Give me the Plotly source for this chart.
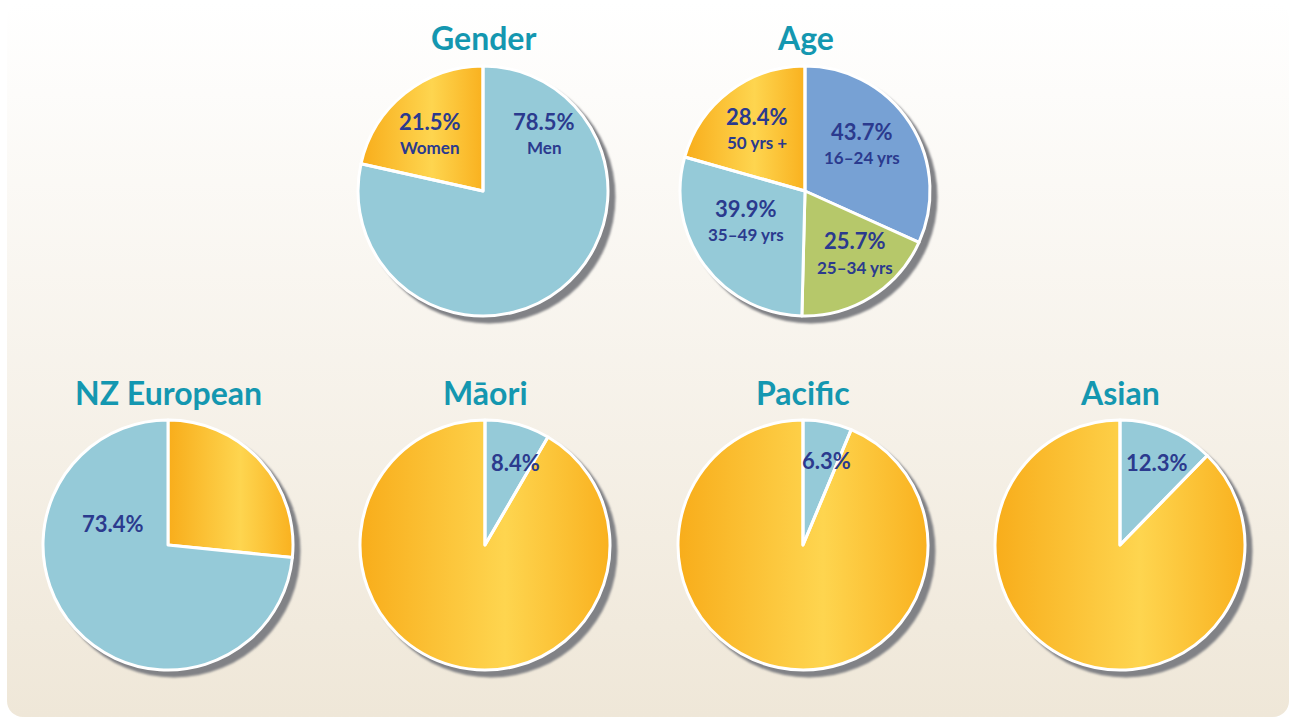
import base64
import numpy as np
import plotly.graph_objects as go

W, H = 1291, 718

# ---------------- data ----------------
titles = ["Gender", "Age", "NZ European", "Māori", "Pacific", "Asian"]

gender_labels = ["Men", "Women"]
gender_values = [78.5, 21.5]
gender_text = ["78.5%", "21.5%"]

age_labels = ["16–24 yrs", "25–34 yrs", "35–49 yrs", "50 yrs +"]
age_values = [43.7, 25.7, 39.9, 28.4]
age_text = ["43.7%", "25.7%", "39.9%", "28.4%"]

nze_labels = ["Other", "NZ European"]
nze_values = [26.6, 73.4]
nze_text = ["", "73.4%"]

maori_labels = ["Māori", "Other"]
maori_values = [8.4, 91.6]
maori_text = ["8.4%", ""]

pacific_labels = ["Pacific", "Other"]
pacific_values = [6.3, 93.7]
pacific_text = ["6.3%", ""]

asian_labels = ["Asian", "Other"]
asian_values = [12.3, 87.7]
asian_text = ["12.3%", ""]

# ---------------- styles ----------------
BLUE = "#95cad8"
DBLUE = "#77a1d4"
GREEN = "#b6c86a"
ORANGE = "rgba(0,0,0,0)"  # filled by gradient underneath
TITLE_C = "#1497b0"
LABEL_C = "#2b3a8e"
SHADOW_C = "#818286"
FONT = "Lato"

R = 125  # pie radius (px)

pies = [
    dict(title=titles[0], labels=gender_labels, values=gender_values, text=gender_text,
         sub=["Men", "Women"], colors=[BLUE, ORANGE], orange=1, c=(483, 191),
         pos=[(61, -66), (-53, -66)]),
    dict(title=titles[1], labels=age_labels, values=age_values, text=age_text,
         sub=age_labels, colors=[DBLUE, GREEN, BLUE, ORANGE], orange=3, c=(805, 191),
         pos=[(57, -56), (50, 54), (-59, 21), (-48, -71)]),
    dict(title=titles[2], labels=nze_labels, values=nze_values, text=nze_text,
         sub=None, colors=[ORANGE, BLUE], orange=0, c=(168, 545),
         pos=[None, (-55, -22)]),
    dict(title=titles[3], labels=maori_labels, values=maori_values, text=maori_text,
         sub=None, colors=[BLUE, ORANGE], orange=1, c=(485, 545),
         pos=[(30, -83), None]),
    dict(title=titles[4], labels=pacific_labels, values=pacific_values, text=pacific_text,
         sub=None, colors=[BLUE, ORANGE], orange=1, c=(803, 545),
         pos=[(23, -85), None]),
    dict(title=titles[5], labels=asian_labels, values=asian_values, text=asian_text,
         sub=None, colors=[BLUE, ORANGE], orange=1, c=(1120, 545),
         pos=[(37, -83), None]),
]


def px2x(x):
    return x / W


def px2y(y):
    return 1 - y / H


fig = go.Figure()
annotations = []
grad_defs = []
circles = []

for i, p in enumerate(pies):
    cx, cy = p["c"]
    fig.add_trace(go.Pie(
        labels=p["labels"], values=p["values"], sort=False, direction="clockwise",
        rotation=0, textinfo="none", hoverinfo="skip", showlegend=False,
        marker=dict(colors=p["colors"], line=dict(color="white", width=3)),
        domain=dict(x=[px2x(cx - R), px2x(cx + R)], y=[px2y(cy + R), px2y(cy - R)]),
    ))
    # title
    annotations.append(dict(
        text=f"<b>{p['title']}</b>", x=px2x(cx), y=px2y(cy - 153),
        xref="paper", yref="paper", xanchor="center", yanchor="middle",
        showarrow=False, font=dict(family=FONT, size=32, color=TITLE_C, weight=900)))
    # labels
    for j, t in enumerate(p["text"]):
        if not t or p["pos"][j] is None:
            continue
        dx, dy = p["pos"][j]
        if p["sub"]:
            split = cy + dy + 10.5
            annotations.append(dict(
                text=f"<b>{t}</b>", x=px2x(cx + dx), y=px2y(split), xref="paper", yref="paper",
                xanchor="center", yanchor="bottom", showarrow=False, borderpad=0,
                font=dict(family=FONT, size=22, color=LABEL_C)))
            annotations.append(dict(
                text=f"<b>{p['sub'][j]}</b>", x=px2x(cx + dx), y=px2y(split),
                xref="paper", yref="paper", xanchor="center", yanchor="top", borderpad=0,
                showarrow=False, font=dict(family=FONT, size=17, color=LABEL_C)))
        else:
            annotations.append(dict(
                text=f"<b>{t}</b>", x=px2x(cx + dx), y=px2y(cy + dy), xref="paper", yref="paper",
                xanchor="center", yanchor="middle", showarrow=False,
                font=dict(family=FONT, size=22, color=LABEL_C)))
    # orange slice horizontal extent (for gradient)
    vals = np.array(p["values"], dtype=float)
    fr = vals / vals.sum()
    start = fr[:p["orange"]].sum() * 2 * np.pi
    end = start + fr[p["orange"]] * 2 * np.pi
    th = np.linspace(start, end, 400)
    xs = np.concatenate([[0.0], R * np.sin(th)])
    x1, x2 = cx + xs.min(), cx + xs.max()
    grad_defs.append(
        f"<linearGradient id='g{i}' gradientUnits='userSpaceOnUse' x1='{x1:.1f}' y1='0' x2='{x2:.1f}' y2='0'>"
        "<stop offset='0' stop-color='#f8ad1b'/><stop offset='0.58' stop-color='#fed54f'/>"
        "<stop offset='1' stop-color='#f9b11f'/></linearGradient>")
    circles.append(
        f"<circle cx='{cx + 6}' cy='{cy + 6}' r='{R + 1.5}' fill='{SHADOW_C}' filter='url(#blur)'/>"
        f"<circle cx='{cx}' cy='{cy}' r='{R}' fill='url(#g{i})'/>")

svg = (
    f"<svg xmlns='http://www.w3.org/2000/svg' width='{W}' height='{H}' viewBox='0 0 {W} {H}'>"
    "<defs><linearGradient id='bg' x1='0' y1='0' x2='0' y2='1'>"
    "<stop offset='0' stop-color='#ffffff'/><stop offset='1' stop-color='#efe7d8'/></linearGradient>"
    "<filter id='blur' x='-10%' y='-10%' width='120%' height='120%'><feGaussianBlur stdDeviation='1.2'/></filter>"
    + "".join(grad_defs) + "</defs>"
    f"<rect x='7' y='2' width='{W - 9}' height='{H - 3}' rx='16' ry='16' fill='url(#bg)'/>"
    + "".join(circles) + "</svg>"
)
src = "data:image/svg+xml;base64," + base64.b64encode(svg.encode("utf-8")).decode("ascii")

fig.update_layout(
    width=W, height=H, margin=dict(l=0, r=0, t=0, b=0),
    paper_bgcolor="white", plot_bgcolor="white",
    annotations=annotations,
    images=[dict(source=src, xref="paper", yref="paper", x=0, y=1, sizex=1, sizey=1,
                 xanchor="left", yanchor="top", sizing="stretch", layer="below")],
)

fig.write_html("out.html", config=dict(displayModeBar=False),
               post_script="document.body.style.margin='0px';document.body.style.overflow='hidden';")
